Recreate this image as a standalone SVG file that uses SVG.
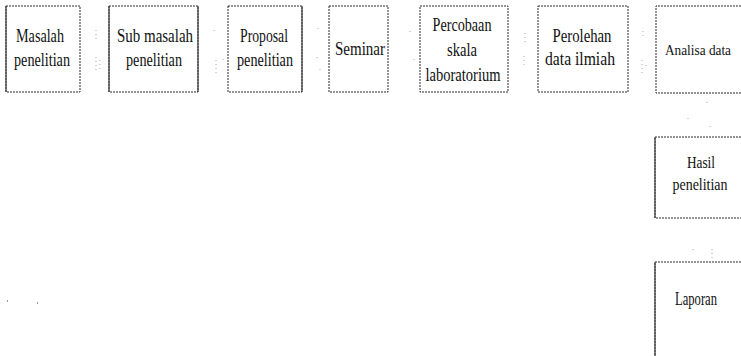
<svg xmlns="http://www.w3.org/2000/svg" width="741" height="356" viewBox="0 0 741 356">
<style>
.box{fill:none;stroke:#2a2a2a;stroke-width:1;stroke-dasharray:2 1}
.solid{stroke:#444;stroke-width:1.3;fill:none}
.t{font-family:"Liberation Serif","Times New Roman",serif;font-size:18px;fill:#111;text-anchor:middle}
.s{font-size:16px}
.c{stroke:#aaa;stroke-width:1;stroke-dasharray:1 3;fill:none}
.d{fill:#999}
</style>
<rect width="741" height="356" fill="#fff"/>
<g id="connectors">
<path class="c" d="M96 30V41M96 57V71M100 60V70"/>
<path class="c" d="M214 30V33M216 60V76"/>
<path class="c" d="M318 28V31M317 57V60M320 69V72M223 59V62"/>
<path class="c" d="M410 31V34M414 59V62"/>
<path class="c" d="M525 33V44M524 56V66"/>
<path class="c" d="M643 31V39M642 60V73M646 65V68"/>
<path class="c" d="M707 102V105M688 118V121M710 126V129"/>
<path class="c" d="M693 249V252M712 249V258"/>
<rect class="d" x="7" y="300" width="1" height="2"/>
<rect class="d" x="37" y="302" width="1" height="2"/>
</g>
<g id="n1">
<rect class="box" x="6" y="6" width="74" height="86"/>
<path class="solid" d="M6 6V92"/>
<text class="t" x="40" y="42" textLength="48" lengthAdjust="spacingAndGlyphs">Masalah</text>
<text class="t" x="42" y="66" textLength="56" lengthAdjust="spacingAndGlyphs">penelitian</text>
</g>
<g id="n2">
<rect class="box" x="109" y="6" width="89" height="86"/>
<path class="solid" d="M109 6V92M198 6V92"/>
<text class="t" x="155" y="42" textLength="76" lengthAdjust="spacingAndGlyphs">Sub masalah</text>
<text class="t" x="154" y="66" textLength="56" lengthAdjust="spacingAndGlyphs">penelitian</text>
</g>
<g id="n3">
<rect class="box" x="228" y="6" width="74" height="86"/>
<path class="solid" d="M302 6V92"/>
<text class="t" x="264" y="42" textLength="48" lengthAdjust="spacingAndGlyphs">Proposal</text>
<text class="t" x="265" y="66" textLength="56" lengthAdjust="spacingAndGlyphs">penelitian</text>
</g>
<g id="n4">
<rect class="box" x="329" y="6" width="59" height="86"/>
<text class="t" x="360" y="55" textLength="50" lengthAdjust="spacingAndGlyphs">Seminar</text>
</g>
<g id="n5">
<rect class="box" x="420" y="6" width="88" height="86"/>
<text class="t" x="462" y="31" textLength="59" lengthAdjust="spacingAndGlyphs">Percobaan</text>
<text class="t" x="462" y="56" textLength="30" lengthAdjust="spacingAndGlyphs">skala</text>
<text class="t" x="463" y="81" textLength="75" lengthAdjust="spacingAndGlyphs">laboratorium</text>
</g>
<g id="n6">
<rect class="box" x="538" y="6" width="90" height="86"/>
<text class="t" x="582" y="42" textLength="59" lengthAdjust="spacingAndGlyphs">Perolehan</text>
<text class="t" x="580" y="65" textLength="70" lengthAdjust="spacingAndGlyphs">data ilmiah</text>
</g>
<g id="n7">
<path class="box" d="M741 6H656V93H741"/>
<text class="t" style="font-size:15px" x="698" y="55" textLength="66" lengthAdjust="spacingAndGlyphs">Analisa data</text>
</g>
<g id="n8">
<path class="box" d="M741 137H655V218H741"/>
<path class="solid" d="M655 137V218"/>
<text class="t s" x="701" y="168" textLength="28" lengthAdjust="spacingAndGlyphs">Hasil</text>
<text class="t s" x="700" y="190" textLength="55" lengthAdjust="spacingAndGlyphs">penelitian</text>
</g>
<g id="n9">
<path class="box" d="M741 262H655V356"/>
<path class="solid" d="M655 262V356"/>
<text class="t" x="696" y="305" textLength="42" lengthAdjust="spacingAndGlyphs">Laporan</text>
</g>
</svg>
